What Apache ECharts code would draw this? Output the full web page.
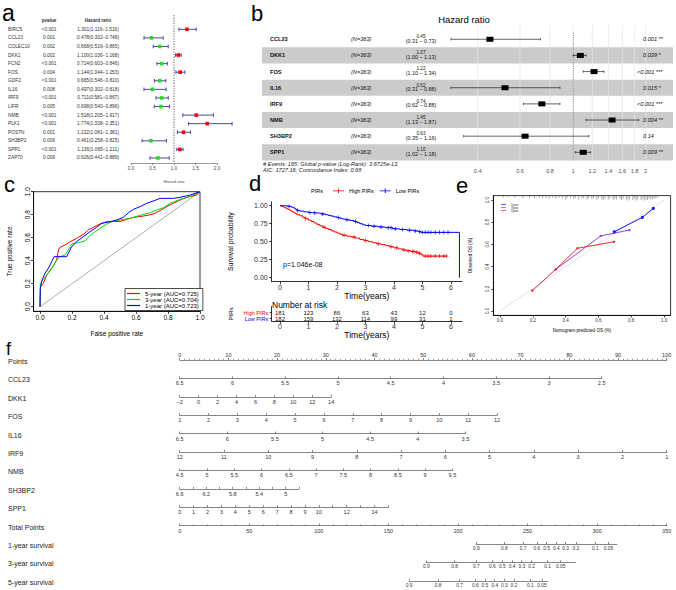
<!DOCTYPE html>
<html>
<head>
<meta charset="utf-8">
<script src="https://cdn.jsdelivr.net/npm/echarts@6.0.0/dist/echarts.min.js"></script>
<style>
html,body{margin:0;padding:0;background:#fff;}
#chart{width:676px;height:590px;}
</style>
</head>
<body>
<div id="chart"></div>
<script>
const FONT = '"Liberation Sans", Arial, Helvetica, sans-serif';

/* ---------------- panel a : univariate Cox ---------------- */
const aGenes = ['BIRC5','CCL23','COLEC10','DKK1','FCN2','FOS','GDF2','IL16','IRF9','LIFR','NMB','PLK1','POSTN','SH3BP2','SPP1','ZAP70'];
const aPvalues = ['<0.001','0.001','0.002','0.002','<0.001','0.004','<0.001','0.008','<0.001','0.005','<0.001','<0.001','0.001','0.009','<0.001','0.009'];
const aHR   = [1.301,0.478,0.668,1.100,0.714,1.144,0.665,0.497,0.711,0.698,1.518,1.774,1.222,0.461,1.136,0.626];
const aLow  = [1.116,0.302,0.516,1.036,0.603,1.044,0.546,0.302,0.581,0.540,1.205,1.338,1.081,0.258,1.065,0.441];
const aHigh = [1.516,0.748,0.865,1.168,0.846,1.253,0.810,0.818,0.867,0.896,1.917,2.351,1.381,0.825,1.211,0.889];

/* ---------------- panel b : multivariate Cox ---------------- */
const bGenes = ['CCL23','DKK1','FOS','IL16','IRF9','NMB','SH3BP2','SPP1'];
const bN = 363;
const bHR   = [0.45,1.07,1.22,0.52,0.74,1.45,0.63,1.10];
const bLow  = [0.31,1.00,1.10,0.31,0.62,1.13,0.35,1.02];
const bHigh = [0.73,1.13,1.34,0.88,0.88,1.87,1.16,1.18];
const bP = ['0.001 **','0.039 *','<0.001 ***','0.015 *','<0.001 ***','0.004 **','0.14','0.009 **'];
const bTicks = [0.4,0.6,0.8,1,1.2,1.4,1.6,1.8,2];
const bNote1 = '# Events: 165; Global p-value (Log-Rank): 3.6725e-13';
const bNote2 = 'AIC: 1727.16; Concordance Index: 0.68';

/* ---------------- panel c : time ROC ---------------- */
const rocNames = ['5-year (AUC=0.725)','3-year (AUC=0.704)','1-year (AUC=0.723)'];
const roc5 = [[0,0],[0.004,0.174],[0.021,0.203],[0.042,0.275],[0.063,0.319],[0.083,0.354],[0.104,0.406],[0.115,0.493],[0.125,0.516],[0.156,0.536],[0.188,0.565],[0.229,0.594],[0.271,0.629],[0.302,0.667],[0.333,0.690],[0.375,0.719],[0.417,0.739],[0.5,0.742],[0.542,0.759],[0.583,0.777],[0.646,0.788],[0.708,0.806],[0.75,0.835],[0.792,0.870],[0.833,0.899],[0.875,0.928],[0.917,0.951],[0.979,0.971],[1,1]];
const roc3 = [[0,0],[0.002,0.203],[0.017,0.232],[0.042,0.275],[0.073,0.333],[0.104,0.406],[0.125,0.435],[0.156,0.449],[0.177,0.493],[0.198,0.545],[0.240,0.557],[0.281,0.571],[0.308,0.614],[0.344,0.652],[0.375,0.681],[0.417,0.719],[0.458,0.745],[0.5,0.754],[0.563,0.768],[0.625,0.794],[0.688,0.817],[0.729,0.841],[0.771,0.861],[0.813,0.899],[0.875,0.933],[0.938,0.957],[1,1]];
const roc1 = [[0,0],[0.002,0.159],[0.013,0.232],[0.031,0.290],[0.052,0.333],[0.073,0.391],[0.088,0.435],[0.167,0.435],[0.177,0.464],[0.198,0.522],[0.229,0.565],[0.271,0.609],[0.313,0.652],[0.354,0.690],[0.385,0.725],[0.438,0.739],[0.479,0.754],[0.521,0.777],[0.552,0.817],[0.583,0.846],[0.625,0.870],[0.667,0.899],[0.708,0.919],[0.75,0.942],[0.833,0.942],[0.875,0.951],[0.938,0.971],[1,1]];
const rocTicks = [0,0.2,0.4,0.6,0.8,1];

/* ---------------- panel d : Kaplan-Meier ---------------- */
const kmHigh = [[0,1],[0.05,0.99],[0.1,0.985],[0.15,0.975],[0.2,0.965],[0.25,0.955],[0.3,0.945],[0.35,0.935],[0.4,0.925],[0.45,0.91],[0.5,0.9],[0.55,0.89],[0.6,0.875],[0.7,0.86],[0.8,0.84],[0.9,0.82],[1.0,0.80],[1.1,0.78],[1.2,0.76],[1.3,0.74],[1.4,0.72],[1.5,0.70],[1.6,0.685],[1.7,0.67],[1.8,0.65],[1.9,0.635],[2.0,0.62],[2.1,0.605],[2.2,0.59],[2.35,0.575],[2.5,0.565],[2.65,0.55],[2.8,0.53],[2.95,0.515],[3.1,0.50],[3.25,0.485],[3.4,0.47],[3.55,0.46],[3.7,0.445],[3.85,0.43],[4.0,0.415],[4.15,0.40],[4.3,0.385],[4.45,0.375],[4.6,0.365],[4.75,0.355],[4.85,0.34],[4.95,0.32],[5.02,0.30],[5.85,0.30]];
const kmLow = [[0,1],[0.15,0.995],[0.3,0.99],[0.4,0.98],[0.5,0.96],[0.55,0.95],[0.6,0.935],[0.7,0.925],[0.85,0.915],[1.0,0.905],[1.15,0.9],[1.3,0.895],[1.45,0.885],[1.6,0.875],[1.7,0.865],[1.8,0.855],[1.9,0.845],[2.0,0.835],[2.1,0.825],[2.2,0.815],[2.3,0.805],[2.45,0.795],[2.6,0.78],[2.7,0.765],[2.8,0.75],[2.9,0.735],[3.0,0.725],[3.2,0.715],[3.45,0.705],[3.7,0.695],[3.95,0.68],[4.2,0.67],[4.45,0.66],[4.7,0.65],[4.85,0.64],[4.95,0.63],[6.3,0.63],[6.3,0]];
const censHigh = [[0.9,0.82],[1.55,0.70],[2.25,0.59],[2.6,0.565],[3.0,0.515],[3.45,0.47],[3.9,0.43],[4.1,0.415],[4.35,0.385],[4.5,0.375],[4.65,0.365],[4.7,0.365],[4.8,0.355],[4.9,0.34],[5.1,0.30],[5.2,0.30],[5.3,0.30],[5.45,0.30],[5.6,0.30],[5.75,0.30],[5.85,0.30]];
const censLow = [[0.32,0.99],[0.62,0.935],[1.05,0.905],[1.22,0.9],[1.5,0.885],[2.05,0.835],[2.35,0.805],[2.65,0.78],[3.1,0.725],[3.3,0.715],[3.55,0.705],[3.8,0.695],[3.9,0.695],[4.05,0.68],[4.3,0.67],[4.55,0.66],[4.75,0.65],[4.9,0.64],[5.0,0.63],[5.1,0.63],[5.2,0.63],[5.3,0.63],[5.45,0.63],[5.6,0.63],[5.75,0.63],[5.9,0.63]];
const kmGroups = ['High PIRs','Low PIRs'];
const kmPText = 'p=1.046e-08';
const kmXTicks = [0,1,2,3,4,5,6];
const kmYTicks = [0,0.25,0.5,0.75,1];
const riskHigh = [181,123,86,63,43,12,0];
const riskLow  = [182,159,132,114,99,31,1];

/* ---------------- panel e : calibration ---------------- */
const calNames = ['1year','3year','5year'];
const cal1 = [[0.697,0.714],[0.868,0.844],[0.935,0.925]];
const cal3 = [[0.340,0.375],[0.614,0.676],[0.789,0.730]];
const cal5 = [[0.197,0.183],[0.340,0.375],[0.472,0.565],[0.695,0.624]];
const rugX = [0.02,0.05,0.09,0.14,0.18,0.21,0.24,0.26,0.28,0.30,0.32,0.34,0.36,0.38,0.40,0.41,0.43,0.45,0.46,0.48,0.50,0.51,0.53,0.54,0.56,0.57,0.59,0.60,0.62,0.63,0.64,0.66,0.67,0.69,0.70,0.71,0.73,0.74,0.75,0.77,0.78,0.79,0.81,0.82,0.83,0.84,0.86,0.87,0.88,0.89,0.90,0.91,0.92,0.93,0.94,0.95,0.96];
const rugH = [2,1.5,2,2.5,2,3,2,3,2.5,3,2,3.5,2.5,3,4,2.5,3,3.5,2,4,3,2.5,4,3,3.5,2.5,4,3,3.5,4.5,3,4,3,4.5,3.5,4,3,4.5,3.5,4,5,3.5,4.5,3,5,4,4.5,3.5,5,4,4.5,3,4,3.5,3,2.5,2];
const calTicks = [0,0.2,0.4,0.6,0.8,1];

/* ---------------- panel f : nomogram ---------------- */
const nomoLabels = ['Points','CCL23','DKK1','FOS','IL16','IRF9','NMB','SH3BP2','SPP1','Total Points','1-year survival','3-year survival','5-year survival'];
const nomoVarFrom = [6.5, -2, 1, 6.5, 12, 4.5, 6.6, 0];
const nomoVarTo   = [2.5, 14, 12, 3.5, 1, 9.5, 4.8, 15];
const nomoVarPts  = [86.65, 31.1, 65.15, 58.67, 100, 56.0, 24.49, 42.85];
const nomoVarStep = [0.5, 2, 1, 0.5, 1, 0.5, 0.2, 1];
const nomoVarShown = [null, null, null, null, null, null, [6.6,6.2,5.8,5.4,5], [0,1,2,3,4,5,6,7,8,9,10,12,14]];
const survLabels = ['0.9','0.8','0.7','0.6','0.5','0.4','0.3','0.2','0.1','0.05'];
const surv1TP = [213.1,233.3,246.8,256.7,263.6,270.7,277.3,284.7,298.7,308.1];
const surv3TP = [177.2,197.5,213.1,224.6,231.8,238.9,245.8,252.9,264.4,273.8];
const surv5TP = [164.9,185.7,201.2,212.4,219.3,226.4,233.3,240.2,252.0,260.4];
const survTPEnd = [314.3, 284.7, 264.4];

/* ================= builders ================= */
const grids = [], xAxes = [], yAxes = [], series = [], graphics = [], legends = [];
const G = {containLabel:false, outerBoundsMode:'none'};
function addGrid(g, x, y) {
  grids.push(Object.assign({}, G, g));
  const i = grids.length - 1;
  x.gridIndex = i; y.gridIndex = i;
  xAxes.push(x); yAxes.push(y);
  return i;
}
function txt(x, y, text, o) {
  o = o || {};
  const al = o.align || 'left', va = o.va || 'middle';
  const e = {type:'text', x:x, y:y, silent:true, z:50,
    style:{text:text, fill:o.color || '#000', fontSize:o.size || 6, fontFamily:FONT,
      fontWeight:o.weight || 'normal', fontStyle:o.style || 'normal',
      align:al, verticalAlign:va, textAlign:al, textVerticalAlign:va}};
  if (o.rotation) e.rotation = o.rotation;
  return e;
}
const hidden = (min, max, inv) => ({type:'value', min:min, max:max, inverse:!!inv, show:false, axisLine:{onZero:false}});
function rAxis(fs, ticks, fmt, extra) {
  return Object.assign({
    type:'value',
    axisLine:{show:true, onZero:false, lineStyle:{color:'#000', width:0.8}},
    axisTick:{show:true, length:2.5, customValues:ticks, lineStyle:{color:'#000', width:0.8}},
    axisLabel:{customValues:ticks, fontSize:fs, color:'#000', margin:3, fontFamily:FONT, formatter:fmt, hideOverlap:false},
    splitLine:{show:false}
  }, extra || {});
}

/* ---- panel a ---- */
const gA = addGrid({left:131, top:15, width:86, height:148.3},
  {type:'value', min:0, max:2, interval:0.5,
   axisLine:{onZero:false, lineStyle:{color:'#555', width:0.6}},
   axisTick:{length:2, lineStyle:{color:'#555', width:0.6}},
   axisLabel:{fontSize:4.6, color:'#444', margin:2.5, formatter:v => v.toFixed(1)},
   splitLine:{show:false},
   name:'Hazard ratio', nameLocation:'middle', nameGap:17, nameTextStyle:{fontSize:3.8, color:'#444'}},
  hidden(-0.667, 16.62, true));
series.push({type:'line', xAxisIndex:gA, yAxisIndex:gA, data:[[1,-0.667],[1,16.62]], showSymbol:false,
  lineStyle:{color:'#888', width:1.3, type:[1.3,1.3]}, z:2, silent:true});
series.push({type:'custom', xAxisIndex:gA, yAxisIndex:gA, clip:false, z:3, silent:true,
  data: aHR.map((v,i) => [v, i+1, aLow[i], aHigh[i]]),
  renderItem: (p, api) => {
    const c = api.coord([api.value(0), api.value(1)]);
    const l = api.coord([api.value(2), api.value(1)]);
    const h = api.coord([api.value(3), api.value(1)]);
    const y = c[1];
    const ls = {stroke:'#34379A', lineWidth:0.9};
    const col = api.value(0) > 1 ? '#FF0000' : '#22DD22';
    return {type:'group', children:[
      {type:'line', shape:{x1:l[0], y1:y, x2:h[0], y2:y}, style:ls},
      {type:'line', shape:{x1:l[0], y1:y-1.8, x2:l[0], y2:y+1.8}, style:ls},
      {type:'line', shape:{x1:h[0], y1:y-1.8, x2:h[0], y2:y+1.8}, style:ls},
      {type:'rect', shape:{x:c[0]-1.8, y:y-1.8, width:3.6, height:3.6}, style:{fill:col}}
    ]};
  }});
series.push({type:'custom', xAxisIndex:gA, yAxisIndex:gA, clip:false, z:3, silent:true,
  data: aGenes.map((g,i) => [0, i+1]),
  renderItem: (p, api) => {
    const i = p.dataIndex;
    const y = api.coord([0, api.value(1)])[1];
    const o = {size:4.8, color:'#333'};
    return {type:'group', children:[
      txt(8, y, aGenes[i], o),
      txt(49, y, aPvalues[i], Object.assign({align:'center'}, o)),
      txt(98, y, aHR[i].toFixed(3) + '(' + aLow[i].toFixed(3) + '\u2212' + aHigh[i].toFixed(3) + ')', Object.assign({align:'center'}, o))
    ]};
  }});
graphics.push(txt(49, 20, 'pvalue', {size:4.6, color:'#333', align:'center', weight:'bold'}));
graphics.push(txt(98, 20, 'Hazard ratio', {size:4.6, color:'#333', align:'center', weight:'bold'}));

/* ---- panel b ---- */
const gB = addGrid({left:262, top:31.2, width:411, height:129.2},
  {type:'log', min:0.0507, max:2.599, show:false, axisLine:{onZero:false}},
  hidden(0.5, 8.5, true));
series.push({type:'custom', xAxisIndex:gB, yAxisIndex:gB, clip:false, z:1, silent:true,
  data: bGenes.map((g,i) => [1, i+1]).filter((d,i) => i % 2 === 1),
  renderItem: (p, api) => {
    const cs = p.coordSys;
    const y1 = api.coord([1, api.value(1) - 0.5])[1], y2 = api.coord([1, api.value(1) + 0.5])[1];
    return {type:'rect', shape:{x:cs.x, y:y1, width:cs.width, height:y2-y1}, style:{fill:'#cbcbcb'}};
  }});
series.push({type:'custom', xAxisIndex:gB, yAxisIndex:gB, clip:false, z:2, silent:true,
  data: bTicks.map(v => [v, 0]),
  renderItem: (p, api) => {
    const t = api.coord([api.value(0), 0.5]), b = api.coord([api.value(0), 8.5]);
    return {type:'group', children:[
      {type:'line', shape:{x1:t[0], y1:t[1]-6, x2:b[0], y2:b[1]}, style:{stroke:'#e4e4e4', lineWidth:0.7}},
      txt(b[0], b[1] + 10.3, String(api.value(0)), {size:5.5, color:'#4d4d4d', align:'center'})
    ]};
  }});
series.push({type:'line', xAxisIndex:gB, yAxisIndex:gB, data:[[1,0.6],[1,8.78]], showSymbol:false,
  lineStyle:{color:'#555', width:0.7, type:[1,1.2]}, z:3, silent:true});
series.push({type:'custom', xAxisIndex:gB, yAxisIndex:gB, clip:false, z:4, silent:true,
  data: bHR.map((v,i) => [v, i+1, bLow[i], bHigh[i]]),
  renderItem: (p, api) => {
    const c = api.coord([api.value(0), api.value(1)]);
    const l = api.coord([api.value(2), api.value(1)]);
    const h = api.coord([api.value(3), api.value(1)]);
    const y = c[1];
    const ls = {stroke:'#000', lineWidth:0.6};
    return {type:'group', children:[
      {type:'line', shape:{x1:l[0], y1:y, x2:h[0], y2:y}, style:ls},
      {type:'line', shape:{x1:l[0], y1:y-1.2, x2:l[0], y2:y+1.2}, style:ls},
      {type:'line', shape:{x1:h[0], y1:y-1.2, x2:h[0], y2:y+1.2}, style:ls},
      {type:'rect', shape:{x:c[0]-3.5, y:y-2.5, width:7, height:5}, style:{fill:'#000'}}
    ]};
  }});
series.push({type:'custom', xAxisIndex:gB, yAxisIndex:gB, clip:false, z:5, silent:true,
  data: bGenes.map((g,i) => [1, i+1]),
  renderItem: (p, api) => {
    const i = p.dataIndex;
    const y = api.coord([1, api.value(1)])[1];
    return {type:'group', children:[
      txt(270, y, bGenes[i], {size:5.6, weight:'bold', color:'#111'}),
      txt(351, y, '(N=' + bN + ')', {size:5.6, style:'italic', color:'#111'}),
      txt(421, y - 2.6, bHR[i].toFixed(2), {size:4.6, align:'center', color:'#111'}),
      txt(421, y + 1.6, '(' + bLow[i].toFixed(2) + ' \u2212 ' + bHigh[i].toFixed(2) + ')', {size:5.4, align:'center', color:'#111'}),
      txt(bP[i].charAt(0) === '<' ? 637 : 643, y, bP[i], {size:5.6, style:'italic', color:'#111'})
    ]};
  }});
graphics.push(txt(464, 19, 'Hazard ratio', {size:9.5, align:'center'}));
graphics.push(txt(263, 164, bNote1, {size:5.6, style:'italic', color:'#222'}));
graphics.push(txt(263, 169.5, bNote2, {size:5.6, style:'italic', color:'#222'}));

/* ---- panel c ---- */
const f1 = v => v.toFixed(1);
const gC = addGrid({left:33.6, top:191.7, width:166.4, height:119.6, show:true, borderColor:'#000', borderWidth:0.8},
  rAxis(6.5, rocTicks, f1, {min:-0.04, max:1, name:'False positive rate', nameLocation:'middle', nameGap:19, nameTextStyle:{fontSize:6.5, color:'#000'}}),
  rAxis(6.5, rocTicks, f1, {min:-0.04, max:1, name:'True positive rate', nameLocation:'middle', nameGap:21, nameTextStyle:{fontSize:6.5, color:'#000'}}));
yAxes[gC].axisLabel.rotate = 90;
series.push({type:'line', xAxisIndex:gC, yAxisIndex:gC, data:[[0,0],[1,1]], showSymbol:false, lineStyle:{color:'#8a8a8a', width:0.7}, silent:true});
[[roc5,'#FF0000'],[roc3,'#00DD00'],[roc1,'#0000FF']].forEach((r,k) => {
  series.push({type:'line', name:rocNames[k], xAxisIndex:gC, yAxisIndex:gC, data:r[0], showSymbol:false, color:r[1],
    lineStyle:{color:r[1], width:1}, silent:true, z:3 + k});
});
legends.push({data:rocNames, orient:'vertical', left:125, top:288.5, selectedMode:false, icon:'rect',
  itemWidth:13, itemHeight:1.2, itemGap:0, padding:[2,4,2,2], backgroundColor:'#fff', borderColor:'#000', borderWidth:0.7,
  textStyle:{fontSize:6, lineHeight:5.6, color:'#000', fontFamily:FONT}});

/* ---- panel d ---- */
const gD = addGrid({left:271.7, top:201.7, width:190.3, height:80},
  rAxis(7, kmXTicks, v => String(v), {min:-0.29, max:6.39, name:'Time(years)', nameLocation:'middle', nameGap:4.5, nameTextStyle:{fontSize:8.5, color:'#000'}}),
  rAxis(7, kmYTicks, v => v.toFixed(2), {min:-0.056, max:1.056, name:'Survival probability', nameLocation:'middle', nameGap:38, nameTextStyle:{fontSize:7, color:'#000'}}));
xAxes[gD].axisLabel.color = '#333'; yAxes[gD].axisLabel.color = '#333';
xAxes[gD].axisLabel.margin = 2; yAxes[gD].axisLabel.margin = 4;
const plusPath = 'path://M-0.22,-1 L0.22,-1 L0.22,-0.22 L1,-0.22 L1,0.22 L0.22,0.22 L0.22,1 L-0.22,1 L-0.22,0.22 L-1,0.22 L-1,-0.22 L-0.22,-0.22 Z';
[[kmHigh, censHigh, '#FF0000'],[kmLow, censLow, '#0000FF']].forEach((d,k) => {
  series.push({type:'line', name:kmGroups[k], xAxisIndex:gD, yAxisIndex:gD, data:d[0], step:'end', showSymbol:false,
    color:d[2], lineStyle:{color:d[2], width:1}, silent:true, z:3});
  series.push({type:'scatter', name:kmGroups[k] + ' censored', xAxisIndex:gD, yAxisIndex:gD, data:d[1],
    symbol:plusPath, symbolSize:4, itemStyle:{color:d[2]}, silent:true, z:4});
});
legends.push({data:kmGroups, orient:'horizontal', left:333, top:187.8, selectedMode:false,
  icon:'path://M0,2.6 L12,2.6 L12,3.4 L0,3.4 Z M5.5,0.5 L6.5,0.5 L6.5,5.5 L5.5,5.5 Z',
  itemWidth:11, itemHeight:5, itemGap:6, padding:0,
  textStyle:{fontSize:5.5, color:'#000', fontFamily:FONT}});
graphics.push(txt(317, 190.5, 'PIRs', {size:5.5, align:'center'}));
graphics.push(txt(283, 264.3, kmPText, {size:7, color:'#111'}));

/* risk table */
const gR = addGrid({left:271.7, top:306.5, width:190.3, height:14.7},
  rAxis(7, kmXTicks, v => String(v), {min:-0.29, max:6.39, name:'Time(years)', nameLocation:'middle', nameGap:3.5, nameTextStyle:{fontSize:8.5, color:'#000'}}),
  {type:'value', min:0, max:2.45, inverse:true, axisLine:{show:true, onZero:false, lineStyle:{color:'#000', width:0.8}},
   axisTick:{show:true, length:2, customValues:[1,2], lineStyle:{color:'#000', width:0.8}},
   axisLabel:{show:false}, splitLine:{show:false},
   name:'PIRs', nameLocation:'middle', nameGap:38, nameTextStyle:{fontSize:6, color:'#000'}});
xAxes[gR].axisLabel.color = '#333'; xAxes[gR].axisLabel.margin = 1.5;
series.push({type:'custom', xAxisIndex:gR, yAxisIndex:gR, clip:false, silent:true, z:5,
  data: [[0,1],[0,2]],
  renderItem: (p, api) => {
    const c = api.coord([api.value(0), api.value(1)]);
    const i = p.dataIndex;
    return txt(p.coordSys.x - 3.5, c[1], kmGroups[i], {size:5.5, align:'right', color: i === 0 ? '#FF0000' : '#0000FF'});
  }});
series.push({type:'custom', xAxisIndex:gR, yAxisIndex:gR, clip:false, silent:true, z:5,
  data: kmXTicks.map((t,i) => [t, 1, riskHigh[i]]).concat(kmXTicks.map((t,i) => [t, 2, riskLow[i]])),
  renderItem: (p, api) => {
    const c = api.coord([api.value(0), api.value(1)]);
    return txt(c[0], c[1], String(api.value(2)), {size:6, align:'center', color:'#111'});
  }});
graphics.push(txt(272, 304.5, 'Number at risk', {size:8.5}));

/* ---- panel e ---- */
const gE = addGrid({left:493.4, top:195.6, width:177.2, height:119.8, show:true, borderColor:'#000', borderWidth:0.8},
  rAxis(4.5, calTicks, f1, {min:-0.04, max:1.04, name:'Nomogram-predicted OS (%)', nameLocation:'middle', nameGap:12.5, nameTextStyle:{fontSize:4.5, color:'#000'}}),
  rAxis(4.5, calTicks, f1, {min:-0.04, max:1.04, name:'Observed OS (%)', nameLocation:'middle', nameGap:20, nameTextStyle:{fontSize:4.5, color:'#000'}}));
yAxes[gE].axisLabel.rotate = 90;
xAxes[gE].axisTick.length = 2; yAxes[gE].axisTick.length = 2;
xAxes[gE].axisLabel.color = '#333'; yAxes[gE].axisLabel.color = '#333';
series.push({type:'line', xAxisIndex:gE, yAxisIndex:gE, data:[[0,0],[1,1]], showSymbol:false, lineStyle:{color:'#d6d6d6', width:0.7}, silent:true});
series.push({type:'custom', xAxisIndex:gE, yAxisIndex:gE, clip:false, silent:true, z:3,
  data: rugX.map((x,i) => [x, rugH[i]]),
  renderItem: (p, api) => {
    const x = api.coord([api.value(0), 0])[0];
    const top = p.coordSys.y;
    return {type:'line', shape:{x1:x, y1:top, x2:x, y2:top + api.value(1)}, style:{stroke:'#444', lineWidth:0.45}};
  }});
[[cal1,'#1414FF','circle',3.2],[cal3,'#A43CE0','circle',2.4],[cal5,'#F0282D','circle',2.4]].forEach((d,k) => {
  series.push({type:'line', name:calNames[k], xAxisIndex:gE, yAxisIndex:gE, data:d[0], color:d[1],
    lineStyle:{color:d[1], width:1}, symbol:d[2], symbolSize:d[3], showSymbol:true, itemStyle:{color:d[1]}, silent:true, z:4});
});
legends.push({data:calNames, orient:'vertical', left:501, top:202.8, selectedMode:false, icon:'rect',
  itemWidth:5, itemHeight:0.7, itemGap:0.1, padding:0,
  textStyle:{fontSize:3, lineHeight:2.8, color:'#333', fontFamily:FONT}});

/* ---- panel f : nomogram ---- */
const P0 = 179.7, PW = 487, TW = 487, NY0 = 360, NDY = 18.4;
function nAxis(extra) {
  return Object.assign({
    type:'value',
    axisLine:{show:true, onZero:false, lineStyle:{color:'#333', width:0.6}},
    axisTick:{show:true, inside:true, length:2, lineStyle:{color:'#333', width:0.6}},
    axisLabel:{fontSize:5.5, color:'#333', margin:2, fontFamily:FONT, hideOverlap:false},
    splitLine:{show:false}
  }, extra);
}
nomoLabels.forEach((lab, i) => graphics.push(txt(8, NY0 + i*NDY + 1.5, lab, {size:7, color:'#222'})));
/* Points */
(function(){
  const ax = nAxis({position:'top', min:0, max:100, interval:10,
    minorTick:{show:true, splitNumber:10, length:1.2, lineStyle:{color:'#333', width:0.5}}});
  ax.axisTick.inside = false;
  ax.axisLabel.margin = 2.5;
  addGrid({left:P0, top:NY0, width:PW, height:1}, ax, hidden(0,1));
})();
/* variables */
nomoVarFrom.forEach((from, k) => {
  const to = nomoVarTo[k];
  const shown = nomoVarShown[k];
  const y = NY0 + (k+1)*NDY;
  const ax = nAxis({min:Math.min(from,to), max:Math.max(from,to), inverse:from > to, interval:nomoVarStep[k]});
  ax.axisLabel.formatter = v => {
    if (shown && !shown.some(s => Math.abs(s - v) < 1e-6)) return '';
    return String(+v.toFixed(2)).replace('-', '\u2212');
  };
  addGrid({left:P0, top:y-1, width:nomoVarPts[k] / 100 * PW, height:1}, ax, hidden(0,1));
});
/* Total points */
addGrid({left:P0, top:NY0 + 9*NDY - 1, width:TW, height:1},
  nAxis({min:0, max:350, interval:50, minorTick:{show:true, splitNumber:5, length:1.2, lineStyle:{color:'#333', width:0.5}}}),
  hidden(0,1));
/* survival */
[surv1TP, surv3TP, surv5TP].forEach((tp, k) => {
  const y = NY0 + (10+k)*NDY;
  const ax = nAxis({min:tp[0], max:survTPEnd[k]});
  ax.axisTick.customValues = tp;
  ax.axisLabel.customValues = tp;
  ax.axisLabel.fontSize = 4.8;
  ax.axisLabel.formatter = v => { const i = tp.findIndex(t => Math.abs(t - v) < 1e-6); return i >= 0 ? survLabels[i] : ''; };
  addGrid({left:P0 + tp[0] / 350 * TW, top:y-1, width:(survTPEnd[k] - tp[0]) / 350 * TW, height:1}, ax, hidden(0,1));
});

/* ---- panel letters ---- */
graphics.push(txt(2, 13, 'a', {size:23}));
graphics.push(txt(251, 13, 'b', {size:22}));
graphics.push(txt(4, 184, 'c', {size:22}));
graphics.push(txt(249, 183, 'd', {size:22}));
graphics.push(txt(456, 185, 'e', {size:22}));
graphics.push(txt(6, 349, 'f', {size:18}));

const chart = echarts.init(document.getElementById('chart'), null, {renderer:'svg', width:676, height:590});
chart.setOption({
  animation:false,
  backgroundColor:'#fff',
  textStyle:{fontFamily:FONT},
  grid:grids, xAxis:xAxes, yAxis:yAxes,
  legend:legends,
  series:series,
  graphic:{elements:graphics}
});
</script>
</body>
</html>
